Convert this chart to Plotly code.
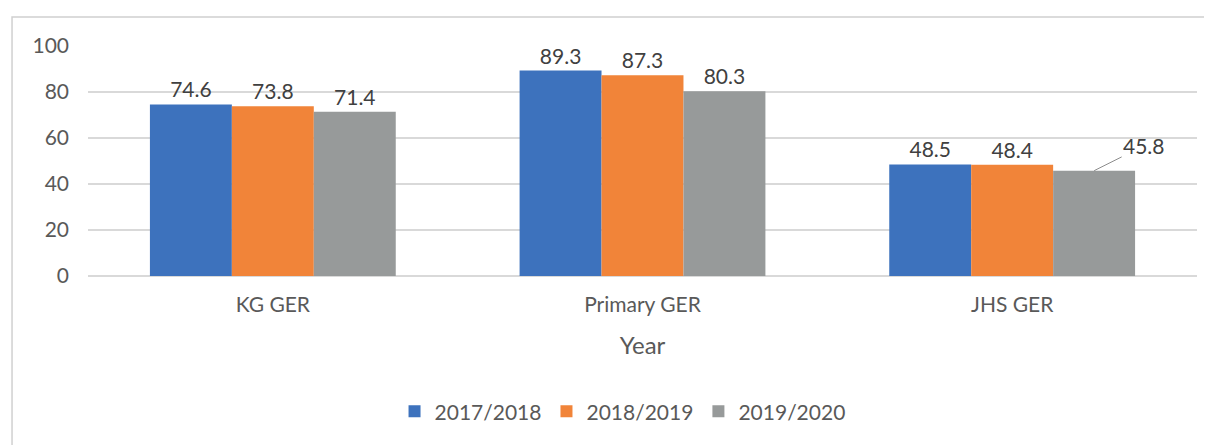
import plotly.graph_objects as go

categories = ["KG GER", "Primary GER", "JHS GER"]
series_names = ["2017/2018", "2018/2019", "2019/2020"]
v2017 = [74.6, 89.3, 48.5]
v2018 = [73.8, 87.3, 48.4]
v2019 = [71.4, 80.3, 45.8]
colors = ["#3D72BD", "#F18439", "#979A9A"]
y_ticks = [0, 20, 40, 60, 80, 100]

FONT = "Lato, 'Open Sans', sans-serif"

fig = go.Figure()
all_vals = [v2017, v2018, v2019]
for i, (name, vals, col) in enumerate(zip(series_names, all_vals, colors)):
    texts = [f"{v:.1f}" for v in vals]
    if i == 2:
        texts[2] = ""  # labelled with a leader line below
    fig.add_trace(go.Bar(
        x=categories, y=vals, name=name,
        marker=dict(color=col, line=dict(width=0)),
        text=texts, textposition="outside", cliponaxis=False,
        textfont=dict(size=21, color="#404040", family=FONT),
    ))

# leader-line label for the last gray bar
fig.add_annotation(
    x=categories[2], y=v2019[2], xref="x", yref="y", xshift=82,
    text=f"{v2019[2]:.1f}", showarrow=True, arrowhead=0, arrowwidth=1,
    arrowcolor="#8c8c8c", ax=50, ay=-25, standoff=0,
    font=dict(size=21, color="#404040", family=FONT),
)

# outer chart border
fig.add_shape(type="rect", xref="paper", yref="paper",
              x0=-0.0685, x1=1.2, y0=-1.5, y1=1.126,
              line=dict(color="#d0d0d0", width=1.5), layer="below")

fig.update_layout(
    width=1204, height=437,
    margin=dict(l=80, r=15, t=38, b=169),
    paper_bgcolor="white", plot_bgcolor="white",
    barmode="group", bargap=0.335, bargroupgap=0,
    font=dict(family=FONT, size=21, color="#595959"),
    showlegend=True,
    legend=dict(orientation="h", x=0.482, xanchor="center", y=-0.59, yanchor="middle",
                font=dict(size=21, color="#595959"), itemsizing="constant"),
)
fig.update_xaxes(
    showgrid=False, showline=False, ticks="", ticklabelstandoff=14,
    tickfont=dict(size=21, color="#595959"),
    title=dict(text="Year", font=dict(size=24, color="#595959"), standoff=22),
)
fig.update_yaxes(
    range=[0, 100], tickvals=y_ticks, showgrid=True, gridcolor="#d9d9d9", gridwidth=1.5,
    zeroline=True, zerolinecolor="#d9d9d9", zerolinewidth=1.5, showline=False,
    ticks="", ticklabelstandoff=18, tickfont=dict(size=21, color="#595959"),
)

fig.write_html("out.html")
